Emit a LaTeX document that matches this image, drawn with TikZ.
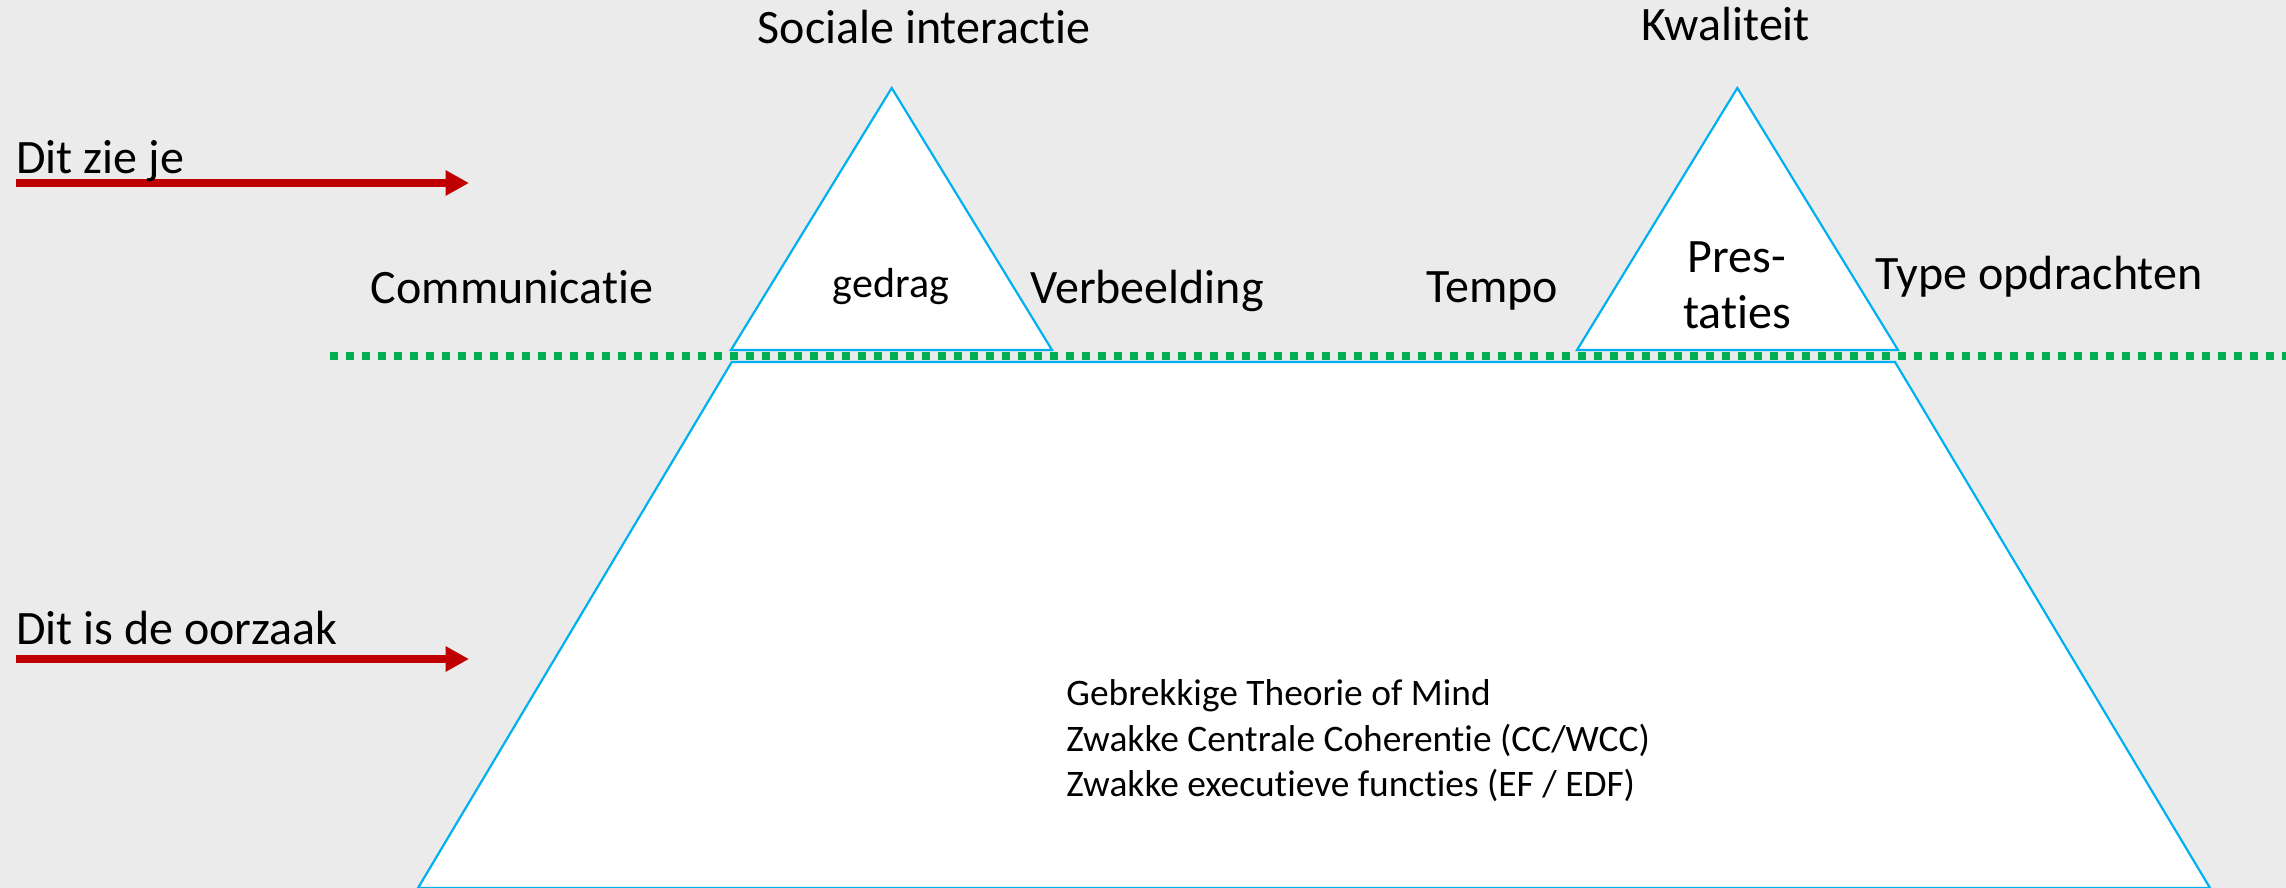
\documentclass[tikz,border=0pt]{standalone}
\usepackage{fontspec}
\setmainfont{Carlito}[Ligatures={NoCommon}]
\usetikzlibrary{arrows.meta}
\definecolor{bg}{RGB}{235,235,235}
\definecolor{iceblue}{RGB}{0,176,240}
\definecolor{waterline}{RGB}{0,176,80}
\definecolor{arrowred}{RGB}{192,0,0}
\tikzset{
  ice/.style={draw=iceblue,fill=white,line width=1.1pt,line join=miter},
  label/.style={inner sep=0pt,font=\fontsize{24}{28}\selectfont},
  smalllabel/.style={inner sep=0pt,font=\fontsize{21}{25}\selectfont},
  causetext/.style={inner sep=0pt,font=\fontsize{18.7}{22}\selectfont},
  redarrow/.style={draw=arrowred,line width=3.65pt,-{Triangle[length=11.7pt,width=12pt]}},
  dots/.style={draw=waterline,line width=4pt,dash pattern=on 4pt off 4pt}
}
\begin{document}
\begin{tikzpicture}[x=0.5pt,y=-0.5pt]
\fill[bg] (0,0) rectangle (2286,888);
\useasboundingbox (0,0) rectangle (2286,888);
% iceberg
\draw[ice] (731.7,362) -- (1895,362) -- (2210,888) -- (418,888) -- cycle;
\draw[ice] (891.7,88) -- (1052,350) -- (731,350) -- cycle;
\draw[ice] (1737.3,88) -- (1898,350) -- (1577,350) -- cycle;
% water line
\coordinate (wl1) at (330,356);
\coordinate (wl2) at (2290,356);
\draw[dots] (wl1) -- (wl2);
% arrows
\coordinate (a1s) at (16,183);
\coordinate (a1e) at (469,183);
\coordinate (a2s) at (16,659);
\coordinate (a2e) at (469,659);
\draw[redarrow] (a1s) -- (a1e);
\draw[redarrow] (a2s) -- (a2e);
% texts
\node[label,anchor=base west] (see) at (16,173) {Dit zie je};
\node[label,anchor=base west] (cause) at (16,644) {Dit is de oorzaak};
\node[label,anchor=base] (soc) at (924,44) {Sociale interactie};
\node[label,anchor=base] (kwal) at (1726,41) {Kwaliteit};
\node[label,anchor=base] (comm) at (512,303) {Communicatie};
\node[smalllabel,anchor=base] (ged) at (891,297) {gedrag};
\node[label,anchor=base] (verb) at (1147,303) {Verbeelding};
\node[label,anchor=base] (tempo) at (1492,302) {Tempo};
\node[label,anchor=base] (pres1) at (1737,272) {Pres-};
\node[label,anchor=base] (pres2) at (1737,328) {taties};
\node[label,anchor=base] (type) at (2039,289) {Type opdrachten};
\node[causetext,anchor=base west] (c1) at (1066,705) {Gebrekkige Theorie of Mind};
\node[causetext,anchor=base west] (c2) at (1066,751) {Zwakke Centrale Coherentie (CC/WCC)};
\node[causetext,anchor=base west] (c3) at (1066,796) {Zwakke executieve functies (EF / EDF)};
\end{tikzpicture}
\end{document}
